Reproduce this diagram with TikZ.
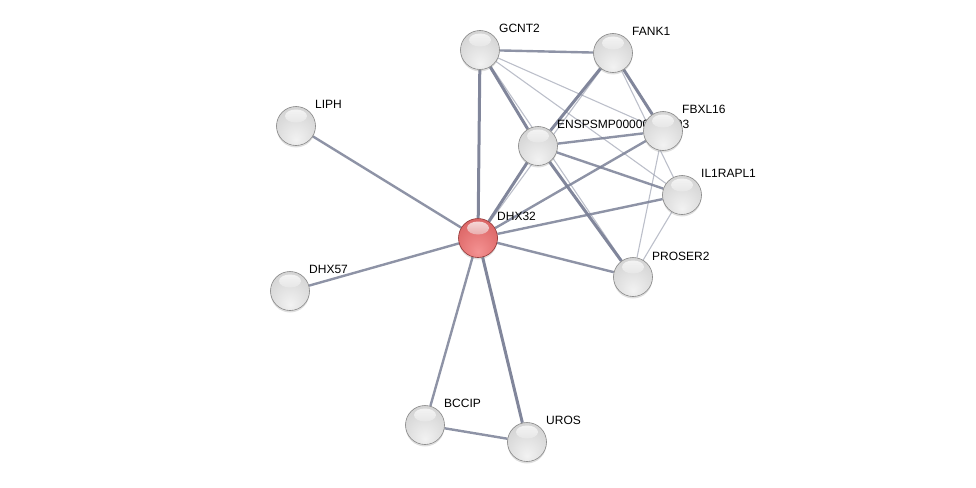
\documentclass[tikz,border=0pt]{standalone}
\usepackage{fontspec}
\setmainfont{Liberation Sans}
\usepackage{xcolor}
\usepackage{tikz}
\usetikzlibrary{shadows, backgrounds}

\definecolor{aresta}{RGB}{122,128,150}
\definecolor{cinzameio}{RGB}{200,200,200}
\definecolor{vermelhomeio}{RGB}{205,88,88}
\pgfdeclareradialshading{bolacinza}{\pgfpoint{0bp}{-18bp}}{%
  color(0bp)=(white!95!black); color(25bp)=(white!86!black);
  color(45bp)=(white!79!black); color(60bp)=(white!73!black);
  color(68bp)=(white!52!black)}
\pgfdeclareradialshading{bolavermelha}{\pgfpoint{0bp}{-18bp}}{%
  color(0bp)=(rgb,255:red,244;green,146;blue,146); color(25bp)=(rgb,255:red,226;green,112;blue,112);
  color(45bp)=(rgb,255:red,208;green,88;blue,88); color(60bp)=(rgb,255:red,190;green,70;blue,70);
  color(68bp)=(rgb,255:red,145;green,38;blue,38)}

\begin{document}
\begin{tikzpicture}[
    x=1pt, y=-1pt,
    every node/.style={inner sep=0pt},
    brilho/.style={path picture={\shade[top color=white, bottom color=#1, opacity=.8]
        ([yshift=10pt]path picture bounding box.center) ellipse (11pt and 6.5pt);}},
    bola/.style={circle, minimum size=39pt, draw=gray!95, line width=0.6pt,
        shading=bolacinza, brilho=cinzameio,
        drop shadow={opacity=0.25, shadow xshift=0pt, shadow yshift=-2pt}},
    bolavermelha/.style={bola, draw=black!40!red!60!gray, shading=bolavermelha, brilho=vermelhomeio},
    rotulo/.style={anchor=west, text height=8.6pt, text depth=0pt,
        font=\fontsize{12}{14}\selectfont}
  ]
  \tikzset{
    forte/.style={draw=aresta, line width=3pt, opacity=.95},
    medio/.style={draw=aresta, line width=2.4pt, opacity=.85},
    fraco/.style={draw=aresta, line width=1.1pt, opacity=.5}
  }
  \useasboundingbox (0,0) rectangle (976,487);

  % nos
  \node[bola] (lipH) at (296,126) {};
  \node[rotulo] (lipH-r) at ([shift={(19,-22)}]lipH.center) {LIPH};
  \node[bola] (dhx57) at (290,291) {};
  \node[rotulo] (dhx57-r) at ([shift={(19,-22)}]dhx57.center) {DHX57};
  \node[bola] (gcnt2) at (480,50) {};
  \node[rotulo] (gcnt2-r) at ([shift={(19,-22)}]gcnt2.center) {GCNT2};
  \node[bola] (fank1) at (613,53) {};
  \node[rotulo] (fank1-r) at ([shift={(19,-22)}]fank1.center) {FANK1};
  \node[bola] (ensp) at (538,146) {};
  \node[rotulo] (ensp-r) at ([shift={(19,-22)}]ensp.center) {ENSPSMP00000000003};
  \node[bola] (fbxl16) at (663,131) {}; % cobre o rotulo de ensp
  \node[rotulo] (fbxl16-r) at ([shift={(19,-22)}]fbxl16.center) {FBXL16};
  \node[bola] (il1rapl1) at (682,195) {};
  \node[rotulo] (il1rapl1-r) at ([shift={(19,-22)}]il1rapl1.center) {IL1RAPL1};
  \node[bola] (proser2) at (633,277) {};
  \node[rotulo] (proser2-r) at ([shift={(19,-21)}]proser2.center) {PROSER2};
  \node[bola] (bccip) at (425,425) {};
  \node[rotulo] (bccip-r) at ([shift={(19,-22)}]bccip.center) {BCCIP};
  \node[bola] (uros) at (527,442) {};
  \node[rotulo] (uros-r) at ([shift={(19,-22)}]uros.center) {UROS};
  \node[bolavermelha] (dhx32) at (478,238) {};
  \node[rotulo] (dhx32-r) at ([shift={(19,-22)}]dhx32.center) {DHX32};

  % arestas
  \begin{pgfonlayer}{background}
    \draw[fraco] (gcnt2) -- (fbxl16);
    \draw[fraco] (gcnt2) -- (il1rapl1);
    \draw[fraco] (gcnt2) -- (proser2);
    \draw[fraco] (dhx32) -- (fank1);
    \draw[fraco] (fank1) -- (il1rapl1);
    \draw[fraco] (fbxl16) -- (proser2);
    \draw[fraco] (il1rapl1) -- (proser2);
    \draw[medio] (gcnt2) -- (fank1);
    \draw[medio] (ensp) -- (fbxl16);
    \draw[medio] (ensp) -- (il1rapl1);
    \draw[medio] (dhx32) -- (fbxl16);
    \draw[medio] (dhx32) -- (il1rapl1);
    \draw[medio] (dhx32) -- (proser2);
    \draw[medio] (dhx32) -- (lipH);
    \draw[medio] (dhx32) -- (dhx57);
    \draw[medio] (dhx32) -- (bccip);
    \draw[medio] (bccip) -- (uros);
    \draw[forte] (dhx32) -- (gcnt2);
    \draw[forte] (dhx32) -- (ensp);
    \draw[forte] (dhx32) -- (uros);
    \draw[forte] (gcnt2) -- (ensp);
    \draw[forte] (fank1) -- (ensp);
    \draw[forte] (fank1) -- (fbxl16);
    \draw[forte] (ensp) -- (proser2);
  \end{pgfonlayer}
\end{tikzpicture}
\end{document}
